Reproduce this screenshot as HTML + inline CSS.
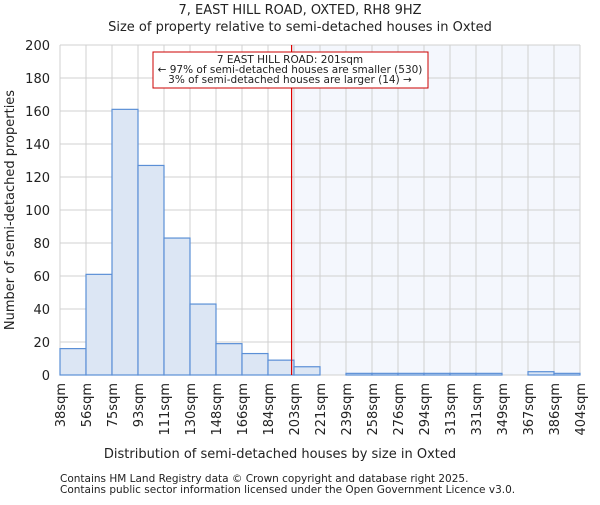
<!DOCTYPE html>
<html><head><meta charset="utf-8"><style>
body{margin:0;background:#fff}
text{font-family:"DejaVu Sans","Liberation Sans",sans-serif;fill:#222}
</style></head><body>
<svg id="c" width="600" height="500" xmlns="http://www.w3.org/2000/svg"></svg>
<script>
const categories=["38sqm","56sqm","75sqm","93sqm","111sqm","130sqm","148sqm","166sqm","184sqm","203sqm","221sqm","239sqm","258sqm","276sqm","294sqm","313sqm","331sqm","349sqm","367sqm","386sqm","404sqm"];
const counts=[16,61,161,127,83,43,19,13,9,5,0,1,1,1,1,1,1,0,2,1];
const yTicks=[0,20,40,60,80,100,120,140,160,180,200];
const edgeStart=38, edgeStep=18.3;
const marker=201;
const svg=document.getElementById('c');
const NS='http://www.w3.org/2000/svg';
const L=60,R=580,T=45,B=375;
const n=counts.length, bw=(R-L)/n;
const x=i=>L+i*bw;
const xv=v=>L+(v-edgeStart)/edgeStep*bw;
const y=v=>B-(v/200)*(B-T);
function el(t,a,name,txt){const e=document.createElementNS(NS,t);for(const k in a)e.setAttribute(k,a[k]);if(txt!==undefined)e.textContent=txt;svg.appendChild(e);return e;}
el('rect',{x:L,y:T,width:R-L,height:B-T,fill:'#fff'},'plot-area');
const mx=xv(marker);
el('rect',{x:mx,y:T,width:R-mx,height:B-T,fill:'#f4f7fd'},'larger-region-shade');
yTicks.forEach(v=>{el('line',{x1:L,x2:R,y1:y(v),y2:y(v),stroke:'#d0d0d0','stroke-width':1},'y-gridline');
el('text',{x:L-10,y:y(v)+5,'text-anchor':'end','font-size':13},'y-tick-label',v);});
categories.forEach((c,i)=>{el('line',{x1:x(i),x2:x(i),y1:T,y2:B,stroke:'#d0d0d0','stroke-width':1},'x-gridline');
el('text',{x:x(i)+5,y:B+8,'text-anchor':'end','font-size':13,transform:`rotate(-90 ${x(i)+5} ${B+8})`},'x-tick-label',c);});
counts.forEach((v,i)=>{if(v>0)el('rect',{x:x(i),y:y(v),width:bw,height:B-y(v),fill:'#dce6f4',stroke:'#5b8fd6','stroke-width':1.2},'bar-'+i);});
el('line',{x1:mx,x2:mx,y1:T,y2:B,stroke:'#dd0000','stroke-width':1.2},'marker-line');
el('rect',{x:153,y:52,width:275,height:36,fill:'#fff',stroke:'#cc0000','stroke-width':1},'annotation-box');
el('text',{x:290,y:63,'text-anchor':'middle','font-size':10.5},'annotation-title','7 EAST HILL ROAD: 201sqm');
el('text',{x:290,y:73,'text-anchor':'middle','font-size':10.5},'annotation-smaller','← 97% of semi-detached houses are smaller (530)');
el('text',{x:290,y:83,'text-anchor':'middle','font-size':10.5},'annotation-larger','3% of semi-detached houses are larger (14) →');
el('text',{x:300,y:14,'text-anchor':'middle','font-size':13},'chart-title','7, EAST HILL ROAD, OXTED, RH8 9HZ');
el('text',{x:300,y:31,'text-anchor':'middle','font-size':13},'chart-subtitle','Size of property relative to semi-detached houses in Oxted');
el('text',{x:280,y:458,'text-anchor':'middle','font-size':13},'x-axis-title','Distribution of semi-detached houses by size in Oxted');
el('text',{x:14,y:210,'text-anchor':'middle','font-size':13,transform:'rotate(-90 14 210)'},'y-axis-title','Number of semi-detached properties');
el('text',{x:60,y:482,'font-size':10.5,fill:'#444'},'footer-line-1','Contains HM Land Registry data © Crown copyright and database right 2025.');
el('text',{x:60,y:493,'font-size':10.5,fill:'#444'},'footer-line-2','Contains public sector information licensed under the Open Government Licence v3.0.');
</script>
</body></html>
